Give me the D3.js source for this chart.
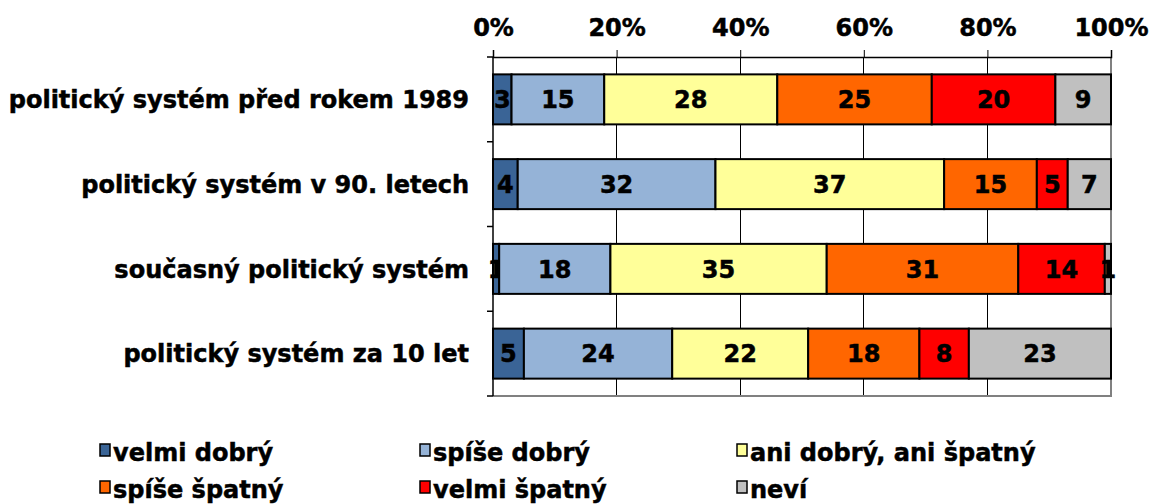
<!DOCTYPE html>
<html>
<head>
<meta charset="utf-8">
<script src="https://cdn.jsdelivr.net/npm/d3@7"></script>
<style>
  body { margin: 0; background: #fff; }
  text { font-family: "DejaVu Sans", Verdana, sans-serif; font-weight: bold; stroke: #000; stroke-width: 0.5px; }
</style>
</head>
<body>
<div id="chart"></div>
<script>
// categories (top to bottom) and series
const categories = ["politický systém před rokem 1989", "politický systém v 90. letech", "současný politický systém", "politický systém za 10 let"];
const seriesNames = ["velmi dobrý", "spíše dobrý", "ani dobrý, ani špatný", "spíše špatný", "velmi špatný", "neví"];
const seriesColors = ["#3A6496", "#95B3D7", "#FFFF99", "#FF6600", "#FF0000", "#C0C0C0"];
const velmiDobry = [3, 4, 1, 5];
const spiseDobry = [15, 32, 18, 24];
const aniAni = [28, 37, 35, 22];
const spiseSpatny = [25, 15, 31, 18];
const velmiSpatny = [20, 5, 14, 8];
const nevi = [9, 7, 1, 23];
const tickValues = [0, 20, 40, 60, 80, 100];

const width = 1155, height = 504;
const margin = {top: 57, right: 44, bottom: 108, left: 493};

const svg = d3.select("#chart").append("svg")
  .attr("width", width).attr("height", height);

const allSeries = [velmiDobry, spiseDobry, aniAni, spiseSpatny, velmiSpatny, nevi];
const rows = categories.map((c, i) => {
  const r = {cat: c};
  seriesNames.forEach((s, j) => r[s] = allSeries[j][i]);
  return r;
});
const stacked = d3.stack().keys(seriesNames)(rows);

const x = d3.scaleLinear().domain([0, 100]).range([margin.left, width - margin.right]);
const y = d3.scaleBand().domain(categories).range([margin.top, height - margin.bottom]).paddingInner(0.41).paddingOuter(0.205);

// gridlines
svg.append("g").selectAll("line").data(tickValues.slice(1, -1)).enter().append("line")
  .attr("x1", d => x(d)).attr("x2", d => x(d))
  .attr("y1", margin.top).attr("y2", height - margin.bottom)
  .attr("stroke", "#000").attr("stroke-width", 1).attr("shape-rendering", "crispEdges");

// plot border right/bottom
svg.append("path")
  .attr("d", `M${x(100)},${margin.top}V${height - margin.bottom}H${x(0)}`)
  .attr("fill", "none").attr("stroke", "#808080").attr("stroke-width", 2);

// top axis
const xAxis = svg.append("g").attr("transform", `translate(0,${margin.top})`)
  .call(d3.axisTop(x).tickValues(tickValues).tickFormat(d => d + "%").tickSize(7).tickPadding(14));
xAxis.select(".domain").attr("stroke", "#000").attr("stroke-width", 1.5);
xAxis.selectAll("text").attr("font-size", 24).attr("fill", "#000")
  .style("font-family", "'DejaVu Sans', Verdana, sans-serif").style("font-weight", "bold");

// left axis
const bandEdges = categories.map(c => y(c) - y.step() * y.paddingInner() / 2).concat([height - margin.bottom]);
svg.append("line").attr("x1", x(0)).attr("x2", x(0)).attr("y1", margin.top).attr("y2", height - margin.bottom)
  .attr("stroke", "#000").attr("stroke-width", 1.5);
svg.append("g").selectAll("line").data(bandEdges).enter().append("line")
  .attr("x1", x(0) - 6).attr("x2", x(0)).attr("y1", d => d).attr("y2", d => d)
  .attr("stroke", "#000").attr("stroke-width", 1.5);

// category labels
svg.append("g").selectAll("text").data(categories).enter().append("text")
  .attr("x", x(0) - 24).attr("y", d => y(d) + y.bandwidth() / 2)
  .attr("dy", "0.36em").attr("text-anchor", "end").attr("font-size", 24)
  .text(d => d);

// bars
const layers = svg.append("g").selectAll("g").data(stacked).enter().append("g")
  .attr("fill", (d, i) => seriesColors[i]);
layers.selectAll("rect").data(d => d).enter().append("rect")
  .attr("x", d => x(d[0])).attr("width", d => x(d[1]) - x(d[0]))
  .attr("y", d => y(d.data.cat)).attr("height", y.bandwidth())
  .attr("stroke", "#000").attr("stroke-width", 2);

// value labels
layers.selectAll("text").data(d => d).enter().append("text")
  .attr("x", d => (x(d[0]) + x(d[1])) / 2).attr("y", d => y(d.data.cat) + y.bandwidth() / 2)
  .attr("dy", "0.36em").attr("text-anchor", "middle").attr("font-size", 24).attr("fill", "#000")
  .text(d => d[1] - d[0]);

// legend
const legendX = [100, 420, 737], legendY = [452, 489];
const leg = svg.append("g").selectAll("g").data(seriesNames).enter().append("g")
  .attr("transform", (d, i) => `translate(${legendX[i % 3]},${legendY[Math.floor(i / 3)]})`);
leg.append("rect").attr("x", 0).attr("y", -8).attr("width", 10).attr("height", 12)
  .attr("fill", (d, i) => seriesColors[i]).attr("stroke", "#000").attr("stroke-width", 1.5);
leg.append("text").attr("x", 13).attr("dy", "0.36em").attr("font-size", 24).text(d => d);
</script>
</body>
</html>
